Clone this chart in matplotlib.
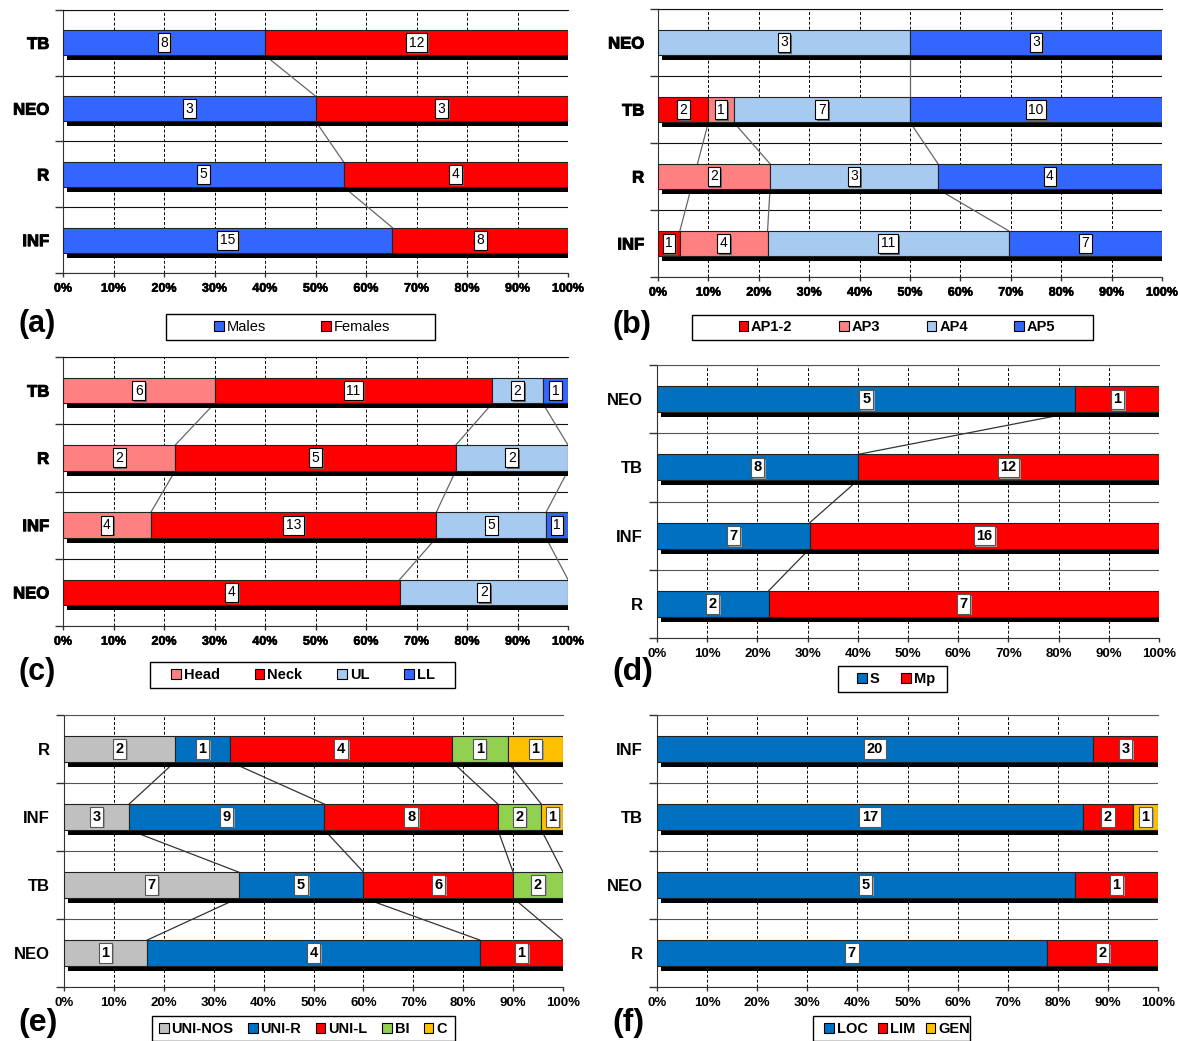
import matplotlib
matplotlib.use("Agg")
import matplotlib.pyplot as plt
import matplotlib.patheffects as pe
from matplotlib.patches import Patch, Rectangle
import numpy as np

plt.rcParams['font.family'] = ['Liberation Sans', 'DejaVu Sans']

# ---------------- data (categories listed top to bottom) ----------------
a_cats = ['TB', 'NEO', 'R', 'INF']
a_names = ['Males', 'Females']
a_males = [8, 3, 5, 15]
a_females = [12, 3, 4, 8]

b_cats = ['NEO', 'TB', 'R', 'INF']
b_names = ['AP1-2', 'AP3', 'AP4', 'AP5']
b_ap12 = [0, 2, 0, 1]
b_ap3 = [0, 1, 2, 4]
b_ap4 = [3, 7, 3, 11]
b_ap5 = [3, 10, 4, 7]

c_cats = ['TB', 'R', 'INF', 'NEO']
c_names = ['Head', 'Neck', 'UL', 'LL']
c_head = [6, 2, 4, 0]
c_neck = [11, 5, 13, 4]
c_ul = [2, 2, 5, 2]
c_ll = [1, 0, 1, 0]

d_cats = ['NEO', 'TB', 'INF', 'R']
d_names = ['S', 'Mp']
d_s = [5, 8, 7, 2]
d_mp = [1, 12, 16, 7]

e_cats = ['R', 'INF', 'TB', 'NEO']
e_names = ['UNI-NOS', 'UNI-R', 'UNI-L', 'BI', 'C']
e_uni_nos = [2, 3, 7, 1]
e_uni_r = [1, 9, 5, 4]
e_uni_l = [4, 8, 6, 1]
e_bi = [1, 2, 2, 0]
e_c = [1, 1, 0, 0]

f_cats = ['INF', 'TB', 'NEO', 'R']
f_names = ['LOC', 'LIM', 'GEN']
f_loc = [20, 17, 5, 7]
f_lim = [3, 2, 1, 2]
f_gen = [0, 1, 0, 0]

# ---------------- colours ----------------
BLUE = '#3366FF'
RED = '#FF0000'
PINK = '#FF8080'
LBLUE = '#A6CAF0'
DBLUE = '#0070C0'
GREY = '#C0C0C0'
GREEN = '#92D050'
GOLD = '#FFC000'

W, H = 1178, 1041
fig = plt.figure(figsize=(W / 100, H / 100), dpi=100)

heavy_fx = [pe.withStroke(linewidth=0.7, foreground='black')]


def px_axes(x0, x1, y0, y1):
    return fig.add_axes([x0 / W, 1 - y1 / H, (x1 - x0) / W, (y1 - y0) / H])


def panel(box, cats, values, colors, heavy, series_lines):
    x0, x1, y0, y1 = box
    ax = px_axes(x0, x1, y0, y1)
    n = len(cats)
    ypos = np.arange(n)[::-1].astype(float)
    vals = np.array(values, float)
    frac = vals / vals.sum(axis=0)
    cum = np.cumsum(frac, axis=0)
    left = cum - frac
    bh = 0.38
    upx = (y1 - y0) / n      # pixels per category unit
    wpx = (x1 - x0)          # pixels per 100 %

    # dark drop shadow under each bar
    ax.barh(ypos - 5 / upx, np.ones(n), left=4 / wpx, height=bh,
            color='black', zorder=2)

    # stacked segments
    for k in range(len(vals)):
        m = vals[k] > 0
        ax.barh(ypos[m], frac[k][m], left=left[k][m], height=bh,
                color=colors[k], edgecolor='#222222', linewidth=0.8, zorder=3)

    # value labels
    for k in range(len(vals)):
        for i in range(n):
            if vals[k, i] <= 0:
                continue
            t = ax.text(left[k, i] + frac[k, i] / 2, ypos[i], f'{int(vals[k, i])}',
                        ha='center', va='center', zorder=6,
                        fontsize=10.5 if not heavy else 10,
                        fontweight='bold' if not heavy else 'normal',
                        bbox=dict(boxstyle='square,pad=0.18', fc='white',
                                  ec='black' if heavy else '#555555', lw=0.8))
            shadow = '#666666' if heavy else '#999999'
            t.get_bbox_patch().set_path_effects(
                [pe.SimplePatchShadow(offset=(1.3, -1.3), shadow_rgbFace=shadow, alpha=1),
                 pe.Normal()])

    # series lines joining the cumulative boundaries of neighbouring bars
    if series_lines:
        lc = '#666666' if heavy else '#333333'
        for k in range(len(vals)):
            idx = [i for i in range(n) if vals[k, i] > 0]
            for a, b in zip(idx[:-1], idx[1:]):
                xa, xb = cum[k, a], cum[k, b]
                if xa > 0.999 and xb > 0.999:
                    continue
                ax.plot([xa, xb], [ypos[a] - bh / 2, ypos[b] + bh / 2],
                        color=lc, lw=0.9, zorder=1.5)

    ax.set_xlim(0, 1)
    ax.set_ylim(-0.5, n - 0.5)
    ticks = np.arange(0, 1.001, 0.1)
    ax.set_xticks(ticks)
    ax.set_xticklabels([f'{int(round(t * 100))}%' for t in ticks])
    ax.set_yticks(ypos)
    ax.set_yticklabels(cats)
    ax.set_yticks(np.arange(-0.5, n, 1.0), minor=True)
    ax.set_axisbelow(True)
    gcol = '#111111' if heavy else '#555555'
    ax.grid(axis='x', which='major', color='black', lw=0.7, ls=(0, (3, 2)))
    ax.grid(axis='y', which='minor', color=gcol, lw=0.8)
    ax.grid(axis='y', which='major', visible=False)
    ax.tick_params(axis='y', which='major', length=0, pad=10)
    ax.tick_params(axis='y', which='minor', length=6, width=1, color='#333333')
    ax.tick_params(axis='x', length=3, width=1, color='#333333', pad=4)
    ax.spines['right'].set_visible(False)
    ax.spines['top'].set_color(gcol)
    ax.spines['top'].set_linewidth(0.8)
    ax.spines['left'].set_color('#333333')
    ax.spines['bottom'].set_color('#333333')
    for lab in ax.get_yticklabels():
        lab.set_fontweight('bold')
        lab.set_fontsize(12)
        if heavy:
            lab.set_path_effects(heavy_fx)
    for lab in ax.get_xticklabels():
        lab.set_fontsize(9 if heavy else 9.5)
        lab.set_fontweight('bold')
        if heavy:
            lab.set_path_effects([pe.withStroke(linewidth=0.4, foreground='black')])
    return ax


def legend(names, colors, center, box, spacing, bold=True):
    bx0, bx1, by0, by1 = box
    fig.add_artist(Rectangle((bx0 / W, 1 - by1 / H), (bx1 - bx0) / W, (by1 - by0) / H,
                             transform=fig.transFigure, fc='white', ec='black', lw=1.0))
    handles = [Patch(fc=c, ec='black', lw=0.8) for c in colors]
    leg = fig.legend(handles, names, loc='center',
                     bbox_to_anchor=(center[0] / W, 1 - center[1] / H),
                     ncol=len(names), frameon=False, handlelength=0.65,
                     handleheight=0.65, handletextpad=0.2, columnspacing=spacing,
                     borderpad=0, borderaxespad=0,
                     prop={'size': 10.5, 'weight': 'bold' if bold else 'normal'})
    return leg


def tag(text, x, y, size):
    fig.text(x / W, 1 - y / H, text, fontsize=size, fontweight='bold',
             ha='left', va='center')


# (a)
panel((63, 568, 10, 273), a_cats, [a_males, a_females], [BLUE, RED], True, True)
legend(a_names, [BLUE, RED], (302, 327), (166, 435, 314, 340), 3.8, bold=False)
tag('(a)', 19, 324, 22)

# (b)
panel((658, 1162, 9, 277), b_cats, [b_ap12, b_ap3, b_ap4, b_ap5],
      [RED, PINK, LBLUE, BLUE], True, True)
legend(b_names, [RED, PINK, LBLUE, BLUE], (897, 327), (692, 1093, 315, 340), 3.2)
tag('(b)', 613, 325, 22)

# (c)
panel((63, 568, 357, 626), c_cats, [c_head, c_neck, c_ul, c_ll],
      [PINK, RED, LBLUE, BLUE], True, True)
legend(c_names, [PINK, RED, LBLUE, BLUE], (303, 675), (150, 455, 662, 688), 2.4)
tag('(c)', 19, 672, 22)

# (d)
panel((657, 1159, 365, 638), d_cats, [d_s, d_mp], [DBLUE, RED], False, True)
legend(d_names, [DBLUE, RED], (896, 679), (838, 947, 666, 692), 1.5)
tag('(d)', 612, 672, 23)

# (e)
panel((64, 563, 715, 987), e_cats, [e_uni_nos, e_uni_r, e_uni_l, e_bi, e_c],
      [GREY, DBLUE, RED, GREEN, GOLD], False, True)
legend(e_names, [GREY, DBLUE, RED, GREEN, GOLD], (303, 1029), (152, 455, 1016, 1041), 1.0)
tag('(e)', 18, 1023, 23)

# (f)
panel((657, 1158, 715, 987), f_cats, [f_loc, f_lim, f_gen],
      [DBLUE, RED, GOLD], False, False)
legend(f_names, [DBLUE, RED, GOLD], (897, 1029), (813, 970, 1016, 1041), 0.7)
tag('(f)', 612, 1023, 23)

fig.savefig('out.png', dpi=100)
